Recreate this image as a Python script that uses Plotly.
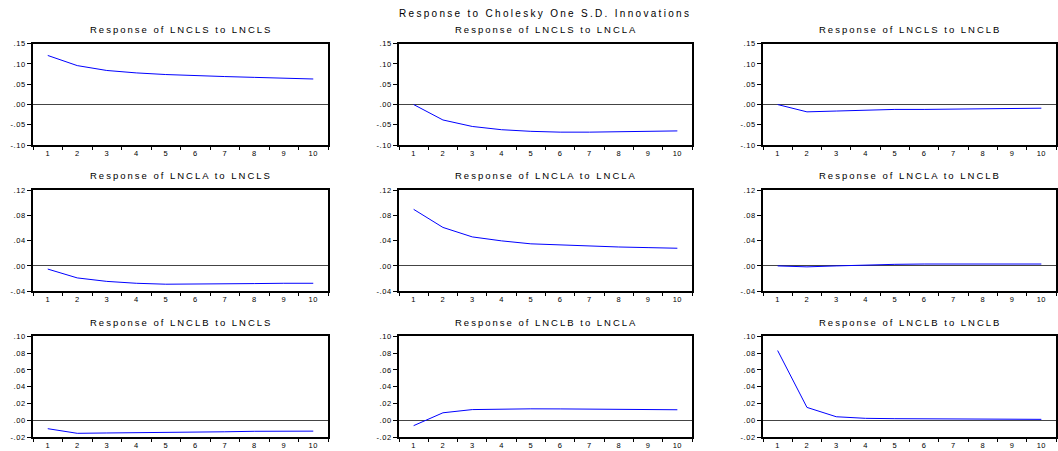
import plotly.graph_objects as go

periods = list(range(1, 11))

titles = [
    "Response of LNCLS to LNCLS", "Response of LNCLS to LNCLA", "Response of LNCLS to LNCLB",
    "Response of LNCLA to LNCLS", "Response of LNCLA to LNCLA", "Response of LNCLA to LNCLB",
    "Response of LNCLB to LNCLS", "Response of LNCLB to LNCLA", "Response of LNCLB to LNCLB",
]

cls_cls = [0.121, 0.096, 0.084, 0.078, 0.074, 0.071, 0.069, 0.067, 0.065, 0.063]
cls_cla = [0.000, -0.038, -0.054, -0.062, -0.066, -0.068, -0.068, -0.067, -0.066, -0.065]
cls_clb = [0.000, -0.018, -0.016, -0.014, -0.012, -0.012, -0.011, -0.011, -0.010, -0.009]
cla_cls = [-0.005, -0.019, -0.0245, -0.0275, -0.029, -0.029, -0.029, -0.028, -0.0275, -0.0275]
cla_cla = [0.0897, 0.061, 0.046, 0.0397, 0.035, 0.033, 0.031, 0.030, 0.029, 0.028]
cla_clb = [0.000, -0.0015, 0.000, 0.0015, 0.0025, 0.003, 0.003, 0.003, 0.003, 0.003]
clb_cls = [-0.0099, -0.0154, -0.015, -0.0148, -0.014, -0.014, -0.0136, -0.013, -0.013, -0.0128]
clb_cla = [-0.0063, 0.009, 0.0128, 0.0134, 0.0137, 0.0136, 0.0134, 0.013, 0.0129, 0.0126]
clb_clb = [0.083, 0.0154, 0.0043, 0.0024, 0.002, 0.0018, 0.0016, 0.0014, 0.0013, 0.0012]

series = [cls_cls, cls_cla, cls_clb, cla_cls, cla_cla, cla_clb, clb_cls, clb_cla, clb_clb]

row_ticks = [
    [-0.10, -0.05, 0.00, 0.05, 0.10, 0.15],
    [-0.04, 0.00, 0.04, 0.08, 0.12],
    [-0.02, 0.00, 0.02, 0.04, 0.06, 0.08, 0.10],
]
row_ticktext = [
    ["-.10", "-.05", ".00", ".05", ".10", ".15"],
    ["-.04", ".00", ".04", ".08", ".12"],
    ["-.02", ".00", ".02", ".04", ".06", ".08", ".10"],
]

main_title = "Response to Cholesky One S.D. Innovations"

W, H = 1058, 451
col_px = [(33, 328), (399, 692), (763, 1056)]
row_px = [(40.5, 144), (190, 293), (339, 442)]

fig = go.Figure()
annotations = []
FONT = "Liberation Sans, Arial, sans-serif"

for i in range(9):
    r, c = divmod(i, 3)
    n = i + 1
    xa = "x" if n == 1 else f"x{n}"
    ya = "y" if n == 1 else f"y{n}"
    fig.add_trace(go.Scatter(x=periods, y=series[i], mode="lines",
                             line=dict(color="#0000FF", width=1),
                             xaxis=xa, yaxis=ya, showlegend=False))
    x0, x1 = col_px[c]
    y0, y1 = row_px[r]
    xd = [x0 / W, x1 / W]
    yd = [1 - y1 / H, 1 - y0 / H]
    ticks = row_ticks[r]
    xkey = "xaxis" if n == 1 else f"xaxis{n}"
    ykey = "yaxis" if n == 1 else f"yaxis{n}"
    fig.update_layout(**{
        xkey: dict(domain=xd, anchor=ya, range=[0.5, 10.5],
                   tickvals=periods,
                   ticktext=[f'<span style="letter-spacing:0.5px">{p}</span>' for p in periods],
                   ticks="outside", ticklen=0, showgrid=False, zeroline=False,
                   showline=True, linecolor="black", linewidth=1.5, mirror=True,
                   tickfont=dict(size=7.5, family=FONT, color="black"),
                   minor=dict(tickvals=[p - 0.5 for p in periods] + [10.5], ticks="outside",
                              ticklen=3, tickcolor="black", tickwidth=1, showgrid=False),
                   fixedrange=True),
        ykey: dict(domain=yd, anchor=xa, range=[ticks[0], ticks[-1]],
                   tickvals=ticks,
                   ticktext=[f'<span style="letter-spacing:0.6px">{t}</span>' for t in row_ticktext[r]],
                   ticks="outside", ticklen=4, tickcolor="black", tickwidth=1,
                   showgrid=False, zeroline=True, zerolinecolor="#444", zerolinewidth=1,
                   showline=True, linecolor="black", linewidth=1.5, mirror=True,
                   tickfont=dict(size=7.5, family=FONT, color="black"),
                   fixedrange=True),
    })
    annotations.append(dict(
        text=f'<span style="letter-spacing:2px">{titles[i]}</span>',
        x=(x0 + x1) / 2 / W, y=1 - (26 + 149.5 * r) / H, xref="paper", yref="paper",
        xanchor="center", yanchor="middle", showarrow=False,
        font=dict(size=9.5, family=FONT, color="black")))

annotations.append(dict(
    text=f'<span style="letter-spacing:2.3px">{main_title}</span>',
    x=545 / W, y=1 - 10 / H, xref="paper", yref="paper",
    xanchor="center", yanchor="middle", showarrow=False,
    font=dict(size=10, family=FONT, color="black")))

fig.update_layout(width=W, height=H, margin=dict(l=0, r=0, t=0, b=0),
                  paper_bgcolor="white", plot_bgcolor="white",
                  annotations=annotations, showlegend=False, hovermode=False)

fig.write_html("out.html", config={"displayModeBar": False},
               post_script="document.body.style.margin='0';document.body.style.overflow='hidden';")
